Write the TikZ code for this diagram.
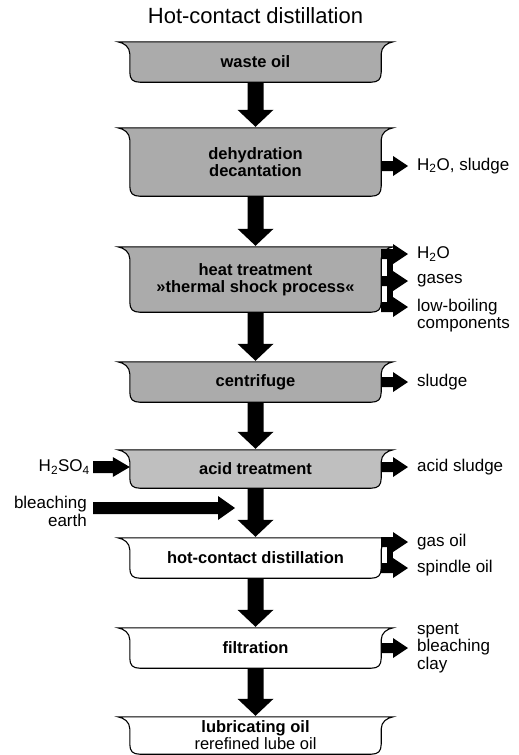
\documentclass[tikz,border=0pt]{standalone}
\usepackage{fontspec}
\setmainfont{Liberation Sans}
\usetikzlibrary{calc,backgrounds}
\tikzset{
  x=1pt, y=-1pt,
  tray/.style={minimum width=251pt, inner sep=0pt, align=center,
    font=\fontsize{16.5}{17}\selectfont\bfseries},
  lbl/.style={anchor=west, inner sep=0pt, align=left,
    font=\fontsize{17}{17.5}\selectfont},
}
\colorlet{traygray}{black!33}
\colorlet{traylight}{black!25}
\newcommand\traypath[2]{%
  \filldraw[line width=1.1pt, fill=#2, draw=black]
    ([xshift=-12pt]#1.north west) -- ([xshift=12pt]#1.north east)
    .. controls ([xshift=6pt,yshift=-1pt]#1.north east) and ([yshift=-5pt]#1.north east) .. ([yshift=-12pt]#1.north east)
    -- ([yshift=10pt]#1.south east) .. controls ([yshift=3pt]#1.south east) and ([xshift=-3pt]#1.south east) .. ([xshift=-10pt]#1.south east)
    -- ([xshift=10pt]#1.south west) .. controls ([xshift=3pt]#1.south west) and ([yshift=3pt]#1.south west) .. ([yshift=10pt]#1.south west)
    -- ([yshift=-12pt]#1.north west) .. controls ([yshift=-5pt]#1.north west) and ([xshift=-6pt,yshift=-1pt]#1.north west) .. ([xshift=-12pt]#1.north west)
    -- cycle;}
\newcommand\downarr[2]{%
  \fill let \p1=(#1.south), \p2=(#2.north) in
    (\x1-8pt,\y1) -- (\x1-8pt,\y2+18pt) -- (\x1-18pt,\y2+18pt) -- (\x1,\y2+1pt)
    -- (\x1+18pt,\y2+18pt) -- (\x1+8pt,\y2+18pt) -- (\x1+8pt,\y1) -- cycle;}
\newcommand\rarr[5]{%
  \fill let \p1=(#1), \p2=(#2) in
    (\x1,\y2+#3) -- (\x2-#5,\y2+#3) -- (\x2-#5,\y2+#4) -- (\x2,\y2)
    -- (\x2-#5,\y2-#4) -- (\x2-#5,\y2-#3) -- (\x1,\y2-#3) -- cycle;}
\begin{document}
\begin{tikzpicture}
\useasboundingbox (0,0) rectangle (519,755);

\node[font=\fontsize{22}{24}\selectfont] (title) at (255.5,16) {Hot-contact distillation};

\node[tray, minimum height=40pt] (waste) at (255.5,62) {waste oil};
\node[tray, minimum height=68pt] (dehy) at (255.5,162) {dehydration\\decantation};
\node[tray, minimum height=65pt] (heat) at (255.5,279.5) {heat treatment\\»thermal shock process«};
\node[tray, minimum height=40pt] (centr) at (255.5,382) {centrifuge};
\node[tray, minimum height=38pt] (acid) at (255.5,469) {acid treatment};
\node[tray, minimum height=40pt] (hcd) at (255.5,558) {hot-contact distillation};
\node[tray, minimum height=40pt] (filt) at (255.5,648) {filtration};
\node[tray, minimum height=37pt] (lube) at (255.5,735.5) {lubricating oil\\{\mdseries rerefined lube oil}};

\begin{pgfonlayer}{background}
\fill[white] (0,0) rectangle (519,755);
\traypath{waste}{traygray}
\traypath{dehy}{traygray}
\traypath{heat}{traygray}
\traypath{centr}{traygray}
\traypath{acid}{traylight}
\traypath{hcd}{white}
\traypath{filt}{white}
\traypath{lube}{white}
\end{pgfonlayer}

\downarr{waste}{dehy}
\downarr{dehy}{heat}
\downarr{heat}{centr}
\downarr{centr}{acid}
\downarr{acid}{hcd}
\downarr{hcd}{filt}
\downarr{filt}{lube}

% outputs
\coordinate (tDehy) at (408,166);
\node[lbl] (lDehy) at (417,166) {H\textsubscript{2}O, sludge};
\rarr{dehy.east}{tDehy}{5pt}{10pt}{15pt}

\coordinate (tH2O) at (408,254);
\coordinate (tGas) at (408,281);
\coordinate (tLow) at (408,307);
\node[lbl] (lH2O) at (417,254) {H\textsubscript{2}O};
\node[lbl] (lGas) at (417,281) {gases};
\node[lbl] (lLow) at (417,315.5) {low-boiling\\components};
\rarr{heat.east}{tH2O}{5pt}{10pt}{15pt}
\rarr{heat.east}{tGas}{5pt}{10pt}{15pt}
\rarr{heat.east}{tLow}{5pt}{10pt}{15pt}
\fill let \p1=(heat.east), \p2=(tH2O), \p3=(tLow) in (\x1+6pt,\y2+4pt) rectangle (\x1+12pt,\y3-4pt);

\coordinate (tCentr) at (408,382);
\node[lbl] (lCentr) at (417,382) {sludge};
\rarr{centr.east}{tCentr}{5pt}{10pt}{15pt}

\coordinate (tAcid) at (408,467);
\node[lbl] (lAcid) at (417,467) {acid sludge};
\rarr{acid.east}{tAcid}{5pt}{10pt}{15pt}

\node[lbl, anchor=east] (lH2SO4) at (90,467) {H\textsubscript{2}SO\textsubscript{4}};
\coordinate (sH2SO4) at (93,467);
\rarr{sH2SO4}{acid.west |- sH2SO4}{6pt}{10pt}{17pt}

\node[lbl, anchor=east, align=right] (lBleach) at (87,511.5) {bleaching\\earth};
\coordinate (sBleach) at (93,508);
\coordinate (tBleach) at (235,508);
\rarr{sBleach}{tBleach}{6pt}{12pt}{17pt}

\coordinate (tGasoil) at (408,542);
\coordinate (tSpindle) at (408,568);
\node[lbl] (lGasoil) at (417,542) {gas oil};
\node[lbl] (lSpindle) at (417,568) {spindle oil};
\rarr{hcd.east}{tGasoil}{5pt}{10pt}{15pt}
\rarr{hcd.east}{tSpindle}{5pt}{10pt}{15pt}
\fill let \p1=(hcd.east), \p2=(tGasoil), \p3=(tSpindle) in (\x1+6pt,\y2+3pt) rectangle (\x1+12pt,\y3-4pt);

\coordinate (tFilt) at (408,648);
\node[lbl] (lFilt) at (417,648) {spent\\bleaching\\clay};
\rarr{filt.east}{tFilt}{5pt}{10pt}{15pt}
\end{tikzpicture}
\end{document}
